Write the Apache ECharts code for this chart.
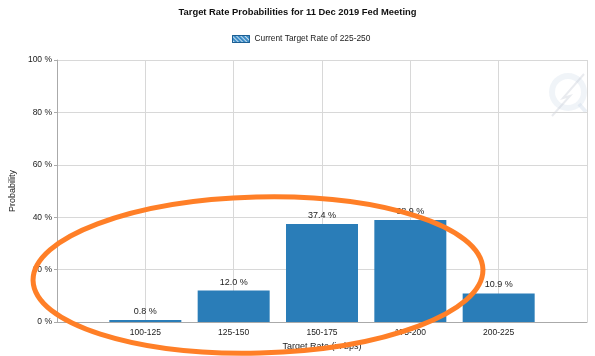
<!DOCTYPE html>
<html>
<head>
<meta charset="utf-8">
<script src="https://cdn.jsdelivr.net/npm/echarts@6/dist/echarts.min.js"></script>
<style>
html,body{margin:0;padding:0;background:#fff;}
#chart{width:595px;height:356px;}
</style>
</head>
<body>
<div id="chart"></div>
<script>
var categories = ['100-125', '125-150', '150-175', '175-200', '200-225'];
var positions = [1, 2, 3, 4, 5];
var probabilities = [0.8, 12.0, 37.4, 38.9, 10.9];
var yTicks = [0, 20, 40, 60, 80, 100];
var seriesName = 'Current Target Rate of 225-250';

var barData = positions.map(function (p, i) { return [p, probabilities[i]]; });
var FONT = 'Liberation Sans, Arial, sans-serif';

var chart = echarts.init(document.getElementById('chart'), null, {renderer: 'canvas'});
chart.setOption({
  animation: false,
  backgroundColor: '#ffffff',
  title: {
    text: 'Target Rate Probabilities for 11 Dec 2019 Fed Meeting',
    left: 'center', top: 3,
    textStyle: {fontFamily: FONT, fontSize: 9.4, fontWeight: 'bold', color: '#111'}
  },
  legend: {
    top: 30, left: 227,
    itemWidth: 17, itemHeight: 7, itemGap: 4,
    icon: 'rect',
    textStyle: {fontFamily: FONT, fontSize: 8.4, color: '#222'},
    data: [{name: seriesName, itemStyle: {color: '#3b8bc6', borderColor: '#1d5f93', borderWidth: 1,
      decal: {symbol: 'rect', color: 'rgba(255,255,255,0.7)', dashArrayX: [1, 0], dashArrayY: [1, 2], rotation: 0.785}}}]
  },
  grid: {left: 55, right: 8, top: 60, bottom: 34, containLabel: false},
  xAxis: {
    type: 'value', min: 0, max: 6, interval: 1,
    name: 'Target Rate (in bps)', nameLocation: 'middle', nameGap: 20,
    nameTextStyle: {fontFamily: FONT, fontSize: 9, color: '#222'},
    axisLine: {show: true, lineStyle: {color: '#aaaaaa'}},
    axisTick: {show: false},
    axisLabel: {fontFamily: FONT, fontSize: 8.5, color: '#222', margin: 6,
      formatter: function (v) { var i = positions.indexOf(v); return i >= 0 ? categories[i] : ''; }},
    splitLine: {show: true, lineStyle: {color: '#d8d8d8'}}
  },
  yAxis: {
    type: 'value', min: 0, max: 100, interval: 20,
    name: 'Probability', nameLocation: 'middle', nameGap: 38, nameRotate: 90,
    nameTextStyle: {fontFamily: FONT, fontSize: 9, color: '#222'},
    axisLine: {show: true, lineStyle: {color: '#aaaaaa'}},
    axisTick: {show: true, length: 3, lineStyle: {color: '#aaaaaa'}},
    axisLabel: {fontFamily: FONT, fontSize: 8.5, color: '#222', margin: 5,
      formatter: function (v) { return v + ' %'; }},
    splitLine: {show: true, lineStyle: {color: '#d8d8d8'}}
  },
  series: [{
    name: seriesName,
    type: 'bar',
    barWidth: 72,
    data: barData,
    itemStyle: {color: '#2a7db8', borderWidth: 0},
    label: {show: true, position: 'top', distance: 4, fontFamily: FONT, fontSize: 9, color: '#222',
      formatter: function (p) { return p.value[1].toFixed(1) + ' %'; }}
  }],
  graphic: [
    {type: 'group', silent: true, z: 1, children: [
      {type: 'ring', shape: {cx: 568, cy: 92, r: 19, r0: 13}, style: {fill: 'rgba(205,218,232,0.3)'}},
      {type: 'line', shape: {x1: 579, y1: 104, x2: 586, y2: 112}, style: {stroke: 'rgba(205,218,232,0.4)', lineWidth: 4}},
      {type: 'polyline', shape: {points: [[584, 74], [563, 98], [570, 96], [552, 116]]}, style: {stroke: 'rgba(200,205,215,0.4)', lineWidth: 2, fill: null}}
    ]},
    {type: 'ellipse', z: 100, silent: true,
      shape: {cx: 258, cy: 275, rx: 225, ry: 78},
      rotation: 0.025, originX: 258, originY: 275,
      style: {fill: null, stroke: '#ff7f27', lineWidth: 5}}
  ]
});
</script>
</body>
</html>
